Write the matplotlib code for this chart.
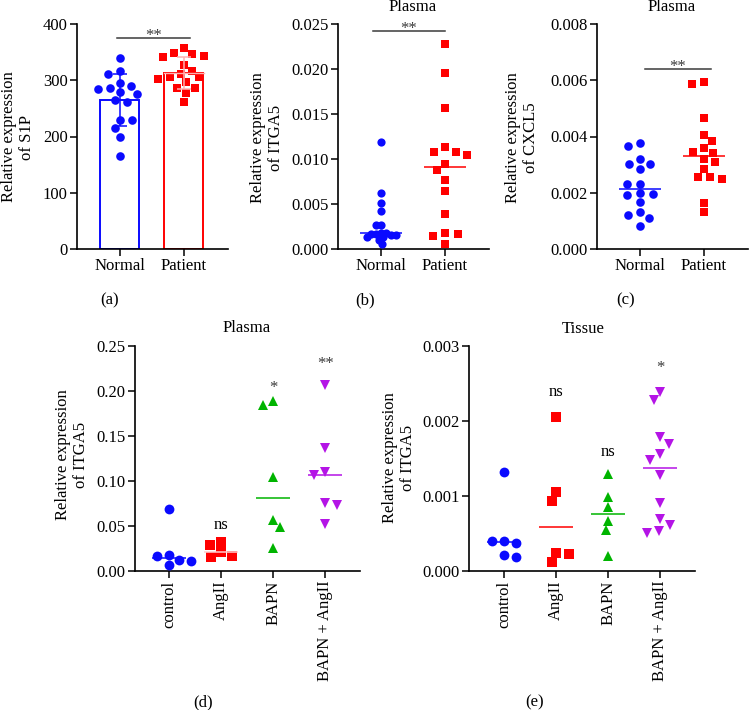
import matplotlib
matplotlib.use('Agg')
import matplotlib.pyplot as plt
import numpy as np

# ---------------- data ----------------
a_cats = ['Normal', 'Patient']
a_normal = [340, 312, 316, 285, 287, 289, 295, 265, 276, 279, 261, 230, 230, 216, 200, 166]
a_patient = [343, 348, 357, 346, 342, 328, 305, 317, 311, 306, 302, 297, 287, 287, 277, 262]

b_cats = ['Normal', 'Patient']
b_normal = [0.0119, 0.0062, 0.0051, 0.0042, 0.0027, 0.0027, 0.0018, 0.0018, 0.0017,
            0.0016, 0.0017, 0.0016, 0.0013, 0.0013, 0.0010, 0.0006]
b_patient = [0.0228, 0.0196, 0.0157, 0.0108, 0.0108, 0.0113, 0.0104, 0.0095, 0.0088,
             0.0077, 0.0065, 0.0039, 0.0018, 0.0015, 0.0017, 0.0006]

c_cats = ['Normal', 'Patient']
c_normal = [0.00378, 0.00366, 0.00321, 0.00303, 0.00303, 0.00284, 0.00230, 0.00232,
            0.00200, 0.00197, 0.00191, 0.00167, 0.00130, 0.00120, 0.00109, 0.00082]
c_patient = [0.00588, 0.00595, 0.00467, 0.00407, 0.00360, 0.00384, 0.00320, 0.00342,
             0.00346, 0.00310, 0.00257, 0.00283, 0.00250, 0.00257, 0.00164, 0.00130]

d_cats = ['control', 'AngII', 'BAPN', 'BAPN + AngII']
d_control = [0.0693, 0.0167, 0.0178, 0.0115, 0.0119, 0.0063]
d_angii = [0.0156, 0.0320, 0.0211, 0.0290, 0.0170]
d_bapn = [0.184, 0.1044, 0.057, 0.0256, 0.189, 0.0485]
d_bapn_angii = [0.110, 0.076, 0.207, 0.137, 0.0526, 0.107, 0.073]
d_marks = ['', 'ns', '*', '**']
d_mark_y = [0, 0.0507, 0.208, 0.235]

e_cats = ['control', 'AngII', 'BAPN', 'BAPN + AngII']
e_control = [0.00132, 0.00040, 0.000404, 0.000373, 0.000191, 0.000213]
e_angii = [0.00012, 0.00205, 0.00105, 0.00093, 0.00024, 0.00023]
e_bapn = [0.0013, 0.000987, 0.000853, 0.000667, 0.000542, 0.000196]
e_bapn_angii = [0.00051, 0.00179, 0.00148, 0.00228, 0.0017, 0.00128, 0.00091,
                0.00061, 0.00239, 0.00156, 0.00069, 0.00054]
e_marks = ['', 'ns', 'ns', '*']
e_mark_y = [0, 0.00238, 0.00159, 0.00276]

# ---------------- style ----------------
plt.rcParams['font.family'] = ['Liberation Serif', 'DejaVu Serif']
FS = 12
plt.rcParams['font.size'] = FS

BLUE = '#0a0aff'
RED = '#ff0000'
GREEN = '#00b400'
PURPLE = '#b414e6'
GRAY = '#3a3a3a'

W, H = 749, 710
fig = plt.figure(figsize=(W / 100, H / 100), dpi=100)


def add_axes(l, r, t, b):
    return fig.add_axes([l / W, 1 - b / H, (r - l) / W, (b - t) / H])


def style(ax):
    for s in ['top', 'right']:
        ax.spines[s].set_visible(False)
    for s in ['left', 'bottom']:
        ax.spines[s].set_linewidth(1.2)
    ax.tick_params(direction='out', length=4.8, width=1.1, pad=2, labelsize=FS)


def swarm(vals, dx_px, dy_px, xppu, yppu):
    """Beeswarm with elliptical exclusion (horizontal dx_px, vertical dy_px)."""
    vals = np.asarray(vals, float)
    k = dx_px / dy_px
    order = np.argsort(-vals, kind='stable')
    xs = np.zeros(len(vals))
    placed = []
    toggle = -1
    d = dx_px
    for i in order:
        y = vals[i] * yppu * k
        cands = [0.0]
        for (px, py) in placed:
            dy = y - py
            if abs(dy) < d:
                ddx = np.sqrt(d ** 2 - dy ** 2)
                cands += [px + ddx, px - ddx]
        valid = [c for c in cands
                 if all((c - px) ** 2 + (y - py) ** 2 >= d ** 2 - 1e-6 for px, py in placed)]
        best = min(abs(c) for c in valid)
        opts = [c for c in valid if abs(abs(c) - best) < 1e-6]
        c = opts[0]
        if len(opts) > 1 and best > 1e-9:
            pick = [o for o in opts if np.sign(o) == toggle]
            if pick:
                c = pick[0]
            toggle *= -1
        xs[i] = c / xppu
        placed.append((c, y))
    return xs


def dots(ax, x0, vals, marker, color, ms_px, dx_px, dy_px, xppu, yppu, z=3):
    offs = swarm(vals, dx_px, dy_px, xppu, yppu)
    ax.plot(x0 + offs, vals, linestyle='none', marker=marker, color=color,
            markersize=ms_px * 0.72, markeredgewidth=0, zorder=z, clip_on=False)


def median_line(ax, x0, vals, color, half=0.33):
    m = np.median(vals)
    ax.plot([x0 - half, x0 + half], [m, m], color=color, lw=1.1, zorder=5,
            solid_capstyle='butt')


def sig(ax, x1, x2, y, text):
    ax.plot([x1, x2], [y, y], color=GRAY, lw=1.1, clip_on=False)
    ax.annotate(text, xy=((x1 + x2) / 2, y), xytext=(0, -1.5), textcoords='offset points',
                ha='center', va='baseline', color=GRAY, fontsize=FS, annotation_clip=False)


def mark(ax, x, y, text):
    off = -2.8 if text == 'ns' else -6.0
    ax.annotate(text, xy=(x, y), xytext=(0, off), textcoords='offset points',
                ha='center', va='baseline', color=GRAY if text != 'ns' else 'black',
                fontsize=FS, annotation_clip=False)


def ylab(cx, cy, text):
    fig.text(cx / W, 1 - cy / H, text, rotation=90, ha='center', va='center',
             multialignment='center', linespacing=1.15, fontsize=FS)


def flab(cx, cy, text, va='center'):
    fig.text(cx / W, 1 - cy / H, text, ha='center', va=va, fontsize=FS)


# ---------------- panel (a) ----------------
ax = add_axes(77, 228, 24, 249)
style(ax)
ax.set_xlim(-0.67, 1.69)
ax.set_ylim(0, 400)
ax.set_yticks(np.arange(0, 401, 100))
ax.set_xticks([0, 1])
ax.set_xticklabels(a_cats)
xppu, yppu = 64, 225 / 400
means = [np.mean(a_normal), np.mean(a_patient)]
sds = [np.std(a_normal, ddof=1), np.std(a_patient, ddof=1)]
ax.bar([0, 1], means, width=0.61, facecolor='white', edgecolor=[BLUE, RED],
       linewidth=1.4, zorder=1)
dots(ax, 0, a_normal, 'o', BLUE, 8.6, 12, 8.5, xppu, yppu)
dots(ax, 1, a_patient, 's', RED, 8, 12, 8.5, xppu, yppu)
ax.errorbar([0], [means[0]], yerr=[sds[0]], color=BLUE, capsize=4.7, lw=1.1,
            capthick=1.1, zorder=4)
ax.errorbar([1], [means[1]], yerr=[sds[1]], color='#ffb0b0', capsize=4.7, lw=1.1,
            capthick=1.1, zorder=4)
ax.plot([0.69, 1.31], [means[1], means[1]], color='#ffb0b0', lw=1.0, zorder=4)
sig(ax, -0.05, 1.09, 376, '**')
ylab(18, 137, 'Relative expression\nof S1P')
flab(110, 300, '(a)')

# ---------------- panel (b) ----------------
ax = add_axes(338, 489, 24, 249)
style(ax)
ax.set_xlim(-0.67, 1.69)
ax.set_ylim(0, 0.025)
yt = np.arange(0, 0.0251, 0.005)
ax.set_yticks(yt)
ax.set_yticklabels([f'{v:.3f}' for v in yt])
ax.set_xticks([0, 1])
ax.set_xticklabels(b_cats)
xppu, yppu = 64, 225 / 0.025
dots(ax, 0, b_normal, 'o', BLUE, 8.2, 5, 5, xppu, yppu)
dots(ax, 1, b_patient, 's', RED, 8.3, 13, 8, xppu, yppu)
median_line(ax, 0, b_normal, BLUE)
median_line(ax, 1, b_patient, RED)
sig(ax, -0.125, 1.0, 0.02422, '**')
flab(413, 11, 'Plasma', va='baseline')
ylab(267, 138, 'Relative expression\nof ITGA5')
flab(365, 300, '(b)')

# ---------------- panel (c) ----------------
ax = add_axes(597, 748, 24, 249)
style(ax)
ax.set_xlim(-0.67, 1.69)
ax.set_ylim(0, 0.008)
yt = np.arange(0, 0.00801, 0.002)
ax.set_yticks(yt)
ax.set_yticklabels([f'{v:.3f}' for v in yt])
ax.set_xticks([0, 1])
ax.set_xticklabels(c_cats)
xppu, yppu = 64, 225 / 0.008
dots(ax, 0, c_normal, 'o', BLUE, 8.6, 13, 8.5, xppu, yppu)
dots(ax, 1, c_patient, 's', RED, 8.5, 12, 8.5, xppu, yppu)
median_line(ax, 0, c_normal, BLUE)
median_line(ax, 1, c_patient, RED)
sig(ax, 0.08, 1.11, 0.00639, '**')
flab(672, 11, 'Plasma', va='baseline')
ylab(522, 138, 'Relative expression\nof CXCL5')
flab(626, 300, '(c)')

# ---------------- panel (d) ----------------
ax = add_axes(135, 360, 346, 571)
style(ax)
ax.set_xlim(-0.654, 3.67)
ax.set_ylim(0, 0.25)
yt = np.arange(0, 0.251, 0.05)
ax.set_yticks(yt)
ax.set_yticklabels([f'{v:.2f}' for v in yt])
ax.set_xticks(range(4))
ax.set_xticklabels(d_cats, rotation=90, va='top', ha='center')
xppu, yppu = 52, 225 / 0.25
groups = [d_control, d_angii, d_bapn, d_bapn_angii]
mk = ['o', 's', '^', 'v']
cols = [BLUE, RED, GREEN, PURPLE]
sizes = [9.8, 10.3, 10.5, 10.5]
for i, g in enumerate(groups):
    dots(ax, i, g, mk[i], cols[i], sizes[i], 12, 9.5, xppu, yppu)
    median_line(ax, i, g, cols[i] if i != 1 else '#ffd0d0')
    if d_marks[i]:
        mark(ax, i, d_mark_y[i], d_marks[i])
flab(247, 332, 'Plasma', va='baseline')
ylab(72, 455, 'Relative expression\nof ITGA5')
flab(203, 702, '(d)')

# ---------------- panel (e) ----------------
ax = add_axes(469, 695, 346, 571)
style(ax)
ax.set_xlim(-0.674, 3.67)
ax.set_ylim(0, 0.003)
yt = np.arange(0, 0.00301, 0.001)
ax.set_yticks(yt)
ax.set_yticklabels([f'{v:.3f}' for v in yt])
ax.set_xticks(range(4))
ax.set_xticklabels(e_cats, rotation=90, va='top', ha='center')
xppu, yppu = 52, 225 / 0.003
groups = [e_control, e_angii, e_bapn, e_bapn_angii]
for i, g in enumerate(groups):
    dots(ax, i, g, mk[i], cols[i], sizes[i], 12.5, 9.5, xppu, yppu)
    median_line(ax, i, g, cols[i])
    if e_marks[i]:
        mark(ax, i, e_mark_y[i], e_marks[i])
flab(583, 333, 'Tissue', va='baseline')
ylab(399, 458, 'Relative expression\nof ITGA5')
flab(535, 702, '(e)')

fig.savefig('out.png', dpi=100)
